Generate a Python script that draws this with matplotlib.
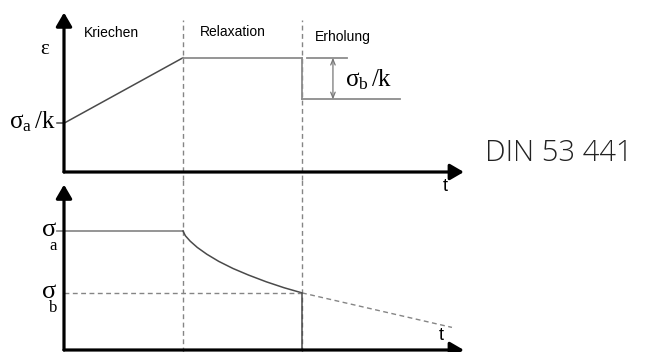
import matplotlib
matplotlib.use("Agg")
import matplotlib.pyplot as plt

plt.rcParams["mathtext.fontset"] = "custom"
plt.rcParams["mathtext.rm"] = "Liberation Serif"
plt.rcParams["mathtext.it"] = "Liberation Serif:italic"

# Time marks: start, end of creep phase, end of relaxation phase (arbitrary units)
t_phase = [0.0, 1.0, 2.0]

# Strain diagram (top)
eps_start = 0.41        # sigma_a / k
eps_peak = 0.96         # strain held during relaxation
eps_recovered = 0.61    # strain after unloading by sigma_b / k
t_recovery_end = 2.82

# Stress diagram (bottom)
sigma_a = 1.0
sigma_b = 0.48
relax_t = [1.00, 1.02, 1.06, 1.12, 1.20, 1.30, 1.42, 1.55, 1.70, 1.85, 2.00]
relax_s = [1.000, 0.960, 0.915, 0.862, 0.805, 0.745, 0.685, 0.630, 0.573, 0.523, 0.480]
extrap_t = [2.00, 3.26]
extrap_s = [0.48, 0.19]

phase_labels = ["Kriechen", "Relaxation", "Erholung"]

PX = 119.0  # pixels per data unit
W, H = 645, 352
fig = plt.figure(figsize=(W / 100, H / 100), dpi=100)

ax1 = fig.add_axes([0, (H - 180) / H, 1, 180 / H])
ax1.set_xlim(-64 / PX, (W - 64) / PX)
ax1.set_ylim(-8 / PX, 172 / PX)
ax2 = fig.add_axes([0, 0, 1, 172 / H])
ax2.set_xlim(-64 / PX, (W - 64) / PX)
ax2.set_ylim(-2 / PX, 170 / PX)
for ax in (ax1, ax2):
    ax.axis("off")

dark = "#4a4a4a"
light = "#8c8c8c"
dash = "#858585"
dash_style = (0, (3.5, 2.5))
serif = ["Liberation Serif", "DejaVu Serif"]
sans = ["Liberation Sans", "DejaVu Sans"]


def axis_arrow(ax, start, end):
    ax.annotate("", xy=end, xytext=start, annotation_clip=False,
                arrowprops=dict(arrowstyle="-|>,head_length=0.55,head_width=0.32",
                                lw=2.3, color="black", shrinkA=0, shrinkB=0,
                                mutation_scale=15))


# phase boundaries, dashed through both diagrams
for t in t_phase[1:]:
    ax1.plot([t, t], [-8 / PX, 1.277], ls=dash_style, lw=1.0, color=dash,
             clip_on=False)
    ax2.plot([t, t], [-2 / PX, 170 / PX], ls=dash_style, lw=1.0, color=dash,
             clip_on=False)

# ---- top: strain ----
ax1.plot([-0.06, 0.0], [eps_start, eps_start], color=dark, lw=1.1)
ax1.plot([t_phase[0], t_phase[1]], [eps_start, eps_peak], color=dark, lw=1.1)
ax1.plot([t_phase[1], t_phase[2]], [eps_peak, eps_peak], color=light, lw=1.3)
ax1.plot([t_phase[2], t_phase[2]], [eps_peak, eps_recovered], color=light, lw=1.3)
ax1.plot([t_phase[2], t_recovery_end], [eps_recovered, eps_recovered], color=light, lw=1.3)
ax1.plot([2.04, 2.38], [eps_peak, eps_peak], color=light, lw=1.3)
ax1.annotate("", xy=(2.26, eps_recovered), xytext=(2.26, eps_peak),
             arrowprops=dict(arrowstyle="<->,head_length=0.5,head_width=0.2",
                             lw=0.9, color="#777777", shrinkA=0, shrinkB=0,
                             mutation_scale=8))

axis_arrow(ax1, (0, 0), (3.36, 0))
axis_arrow(ax1, (0, 0), (0, 1.34))

ax1.text(0.17, 1.168, phase_labels[0], fontsize=10, family=sans, va="center")
ax1.text(1.14, 1.175, phase_labels[1], fontsize=10, family=sans, va="center")
ax1.text(2.11, 1.134, phase_labels[2], fontsize=10, family=sans, va="center")

ax1.text(-0.165, 1.03, "ε", fontsize=15, family=serif, va="center", ha="center")
ax1.text(-0.076, 0.37, r"$\mathrm{σ}_{\mathrm{a}}\,\mathrm{/k}$", fontsize=18,
         va="baseline", ha="right")
ax1.text(2.36, 0.723, r"$\mathrm{σ}_{\mathrm{b}}\,\mathrm{/k}$", fontsize=18,
         va="baseline", ha="left")
ax1.text(3.20, -0.118, "t", fontsize=13, family=sans, va="center", ha="center")

ax1.text(3.54, 0.16, "DIN 53 441", fontsize=21, family=["Open Sans", "DejaVu Sans"],
         fontweight="light", va="center", ha="left", color="#222222")

# ---- bottom: stress ----
ax2.plot([-0.06, t_phase[1]], [sigma_a, sigma_a], color=light, lw=1.3)
ax2.plot(relax_t, relax_s, color=dark, lw=1.1)
ax2.plot(extrap_t, extrap_s, ls=dash_style, lw=1.0, color=dash)
ax2.plot([0.0, t_phase[2]], [sigma_b, sigma_b], ls=dash_style, lw=1.0, color=dash)
ax2.plot([t_phase[2], t_phase[2]], [sigma_b, 0], color=dark, lw=1.1)

axis_arrow(ax2, (0, 0), (3.36, 0))
axis_arrow(ax2, (0, 0), (0, 1.39))

# stress symbols with their index set below the sigma
for level, sub in ((sigma_a, "a"), (sigma_b, "b")):
    ax2.text(-0.062, level - 0.045, "σ", fontsize=19, family=serif,
             va="baseline", ha="right")
    ax2.text(-0.088, level - 0.16, sub, fontsize=12, family=serif,
             va="baseline", ha="center")
ax2.text(3.17, 0.126, "t", fontsize=13, family=sans, va="center", ha="center")

fig.savefig("out.png", dpi=100)
